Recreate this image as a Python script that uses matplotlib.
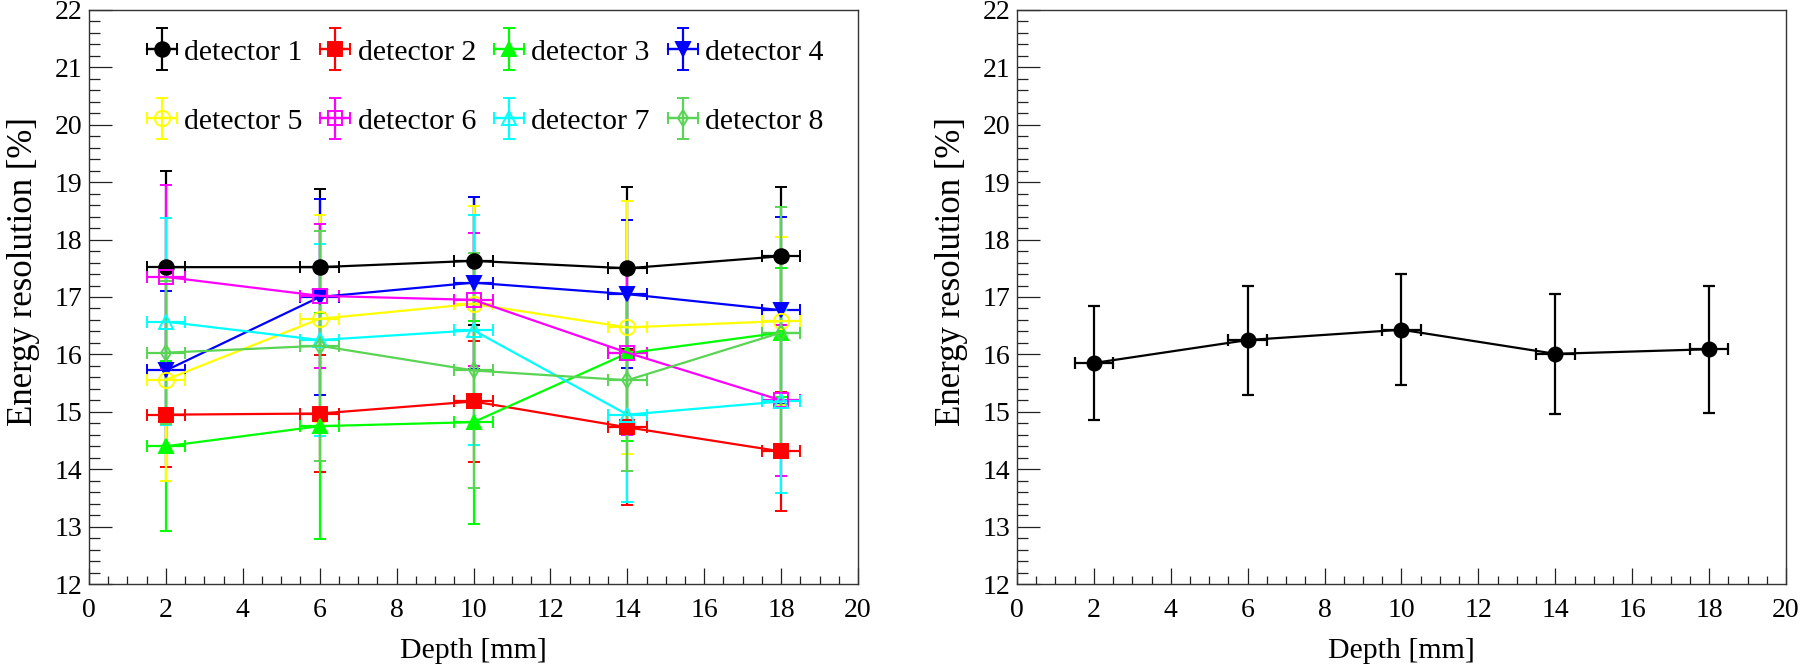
"""Energy resolution vs depth, per detector and averaged."""
import matplotlib
matplotlib.use("Agg")
import matplotlib.pyplot as plt
from matplotlib.legend_handler import HandlerErrorbar
from matplotlib.ticker import MultipleLocator

plt.rcParams["font.family"] = ["Liberation Serif", "DejaVu Serif"]

# --- data ---
depth = [2, 6, 10, 14, 18]
depth_err = [0.5, 0.5, 0.5, 0.5, 0.5]

det_labels = ["detector 1", "detector 2", "detector 3", "detector 4",
              "detector 5", "detector 6", "detector 7", "detector 8"]

det1 = [17.52, 17.52, 17.63, 17.50, 17.71]
det2 = [14.95, 14.97, 15.18, 14.73, 14.31]
det3 = [14.40, 14.75, 14.82, 16.02, 16.38]
det4 = [15.72, 17.00, 17.25, 17.05, 16.77]
det5 = [15.56, 16.62, 16.88, 16.47, 16.58]
det6 = [17.35, 17.02, 16.95, 16.03, 15.20]
det7 = [16.57, 16.25, 16.42, 14.95, 15.18]
det8 = [16.03, 16.15, 15.72, 15.55, 16.38]

err1 = [1.68, 1.37, 1.11, 1.41, 1.20]
err2 = [0.92, 1.02, 1.05, 1.35, 1.04]
err3 = [1.48, 1.97, 1.77, 1.53, 1.12]
err4 = [1.38, 1.70, 1.50, 1.29, 1.63]
err5 = [1.77, 1.80, 1.70, 2.21, 1.47]
err6 = [1.60, 1.25, 1.16, 1.44, 1.31]
err7 = [1.80, 1.68, 2.00, 1.52, 1.60]
err8 = [1.25, 2.00, 2.04, 1.59, 2.18]

mean_res = [15.85, 16.25, 16.43, 16.01, 16.09]
mean_err = [1.00, 0.95, 0.97, 1.04, 1.11]

det_values = [det1, det2, det3, det4, det5, det6, det7, det8]
det_errors = [err1, err2, err3, err4, err5, err6, err7, err8]

# ROOT colours 1..8 and markers 20..27
colors = ["#000000", "#ff0000", "#00ff00", "#0000ff",
          "#ffff00", "#ff00ff", "#00ffff", "#59d454"]
markers = ["o", "s", "^", "v", "o", "s", "^", "d"]
filled = [True, True, True, True, False, False, False, False]
msizes = [10.5, 9.5, 10, 10, 11, 10.5, 10.5, 8.5]


def style_axes(ax):
    ax.set_xlim(0, 20)
    ax.set_ylim(12, 22)
    ax.xaxis.set_major_locator(MultipleLocator(2))
    ax.xaxis.set_minor_locator(MultipleLocator(0.5))
    ax.yaxis.set_major_locator(MultipleLocator(1))
    ax.yaxis.set_minor_locator(MultipleLocator(0.2))
    ax.tick_params(axis="both", which="both", direction="in",
                   top=False, right=False, width=0.9, colors="#222222",
                   labelcolor="black", labelsize=20)
    ax.tick_params(axis="y", which="major", length=16.5, pad=5)
    ax.tick_params(axis="y", which="minor", length=8)
    ax.tick_params(axis="x", which="major", length=11.5, pad=10)
    ax.tick_params(axis="x", which="minor", length=6)
    for sp in ax.spines.values():
        sp.set_linewidth(1.0)
        sp.set_color("#333333")
    ax.set_xlabel("Depth [mm]", fontsize=21.5, labelpad=11)
    ax.set_ylabel("Energy resolution [%]", fontsize=25, labelpad=10, y=0.545)


fig = plt.figure(figsize=(18, 6.65), dpi=100)
ax1 = fig.add_axes([89 / 1800, 1 - 584 / 665, 769 / 1800, 574 / 665])
ax2 = fig.add_axes([1017 / 1800, 1 - 584 / 665, 769 / 1800, 574 / 665])

handles = []
for vals, errs, c, m, f, ms, lab in zip(det_values, det_errors, colors,
                                         markers, filled, msizes, det_labels):
    h = ax1.errorbar(depth, vals, xerr=depth_err, yerr=errs, color=c,
                     marker=m, ms=ms, mfc=c if f else "none", mec=c,
                     mew=1.4, lw=1.6, elinewidth=1.6, capsize=4,
                     capthick=1.6, label=lab)
    handles.append(h)

# matplotlib fills legend columns first; reorder so rows read 1-4, 5-8
order = [0, 4, 1, 5, 2, 6, 3, 7]
ax1.legend(handles=[handles[i] for i in order], loc="upper left",
           bbox_to_anchor=(0.075, 0.95), ncol=4, frameon=False,
           fontsize=21.5, numpoints=1, handlelength=1.0, handletextpad=0.25,
           columnspacing=0.6, labelspacing=1.42, borderpad=0,
           borderaxespad=0,
           handler_map={type(handles[0]): HandlerErrorbar(xerr_size=0.5,
                                                          yerr_size=0.7)})

ax2.errorbar(depth, mean_res, xerr=depth_err, yerr=mean_err, color="black",
             marker="o", ms=10.5, lw=1.6, elinewidth=1.6, capsize=4,
             capthick=1.6)

style_axes(ax1)
style_axes(ax2)

fig.savefig("out.png", dpi=100)
